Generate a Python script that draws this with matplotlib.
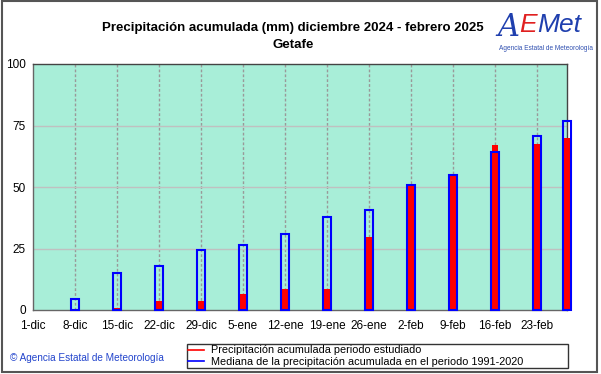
import numpy as np
import pandas as pd
import matplotlib
matplotlib.use("Agg")
import matplotlib.pyplot as plt
from matplotlib.lines import Line2D
from matplotlib.patches import Rectangle

plt.rcParams["font.family"] = ["Liberation Sans", "DejaVu Sans"]

# ── data ────────────────────────────────────────────────────────────────────
start      = pd.Timestamp("2024-12-01")
end        = pd.Timestamp("2025-02-28")
bar_dates  = ["2024-12-08", "2024-12-15", "2024-12-22", "2024-12-29",
              "2025-01-05", "2025-01-12", "2025-01-19", "2025-01-26",
              "2025-02-02", "2025-02-09", "2025-02-16", "2025-02-23",
              "2025-02-28"]
observed   = [0.3, 0.7, 3.7, 3.7, 6.5, 8.4, 8.5, 29.8, 50.5, 55.0, 67.0, 67.4, 70.0]
median     = [4.5, 14.9, 18.0, 24.3, 26.4, 30.8, 37.9, 40.6, 50.7, 55.0, 64.1, 70.9, 77.0]
tick_labels = ["1-dic", "8-dic", "15-dic", "22-dic", "29-dic", "5-ene", "12-ene",
               "19-ene", "26-ene", "2-feb", "9-feb", "16-feb", "23-feb"]
y_ticks    = [0, 25, 50, 75, 100]

x_bars  = np.array([(pd.Timestamp(d) - start).days for d in bar_dates])
x_ticks = np.arange(len(tick_labels)) * 7
x_max   = (end - start).days

# ── figure ──────────────────────────────────────────────────────────────────
fig = plt.figure(figsize=(6.01, 3.74), dpi=100)
ax = fig.add_axes([33 / 601, 1 - 310 / 374, 534 / 601, 246 / 374])
ax.set_facecolor("#a8eed8")

ax.set_xlim(0, x_max)
ax.set_ylim(0, 100)

# grid
for xt in x_ticks[1:]:
    ax.axvline(xt, color="#999999", linestyle=(0, (2, 1.5)), linewidth=1.0, zorder=1)
for yt in y_ticks[1:-1]:
    ax.axhline(yt, color="#c0c0c0", linewidth=1.0, zorder=1)

# bars: observed (red) under median outline (blue)
ax.bar(x_bars, observed, width=1.0, color="#ff0000", linewidth=0,
       zorder=3, clip_on=False)
ax.bar(x_bars, median, width=1.2, facecolor="none", edgecolor="#0000ff",
       linewidth=1.5, zorder=4, clip_on=False)

ax.set_xticks(x_ticks)
ax.set_xticklabels(tick_labels, fontsize=8.5)
ax.set_yticks(y_ticks)
ax.set_yticklabels([str(v) for v in y_ticks], fontsize=8.5)
ax.tick_params(length=0, pad=7)
ax.tick_params(axis="y", pad=5)

for side in ["left", "bottom"]:
    ax.spines[side].set_color("#666666")
for side in ["top", "right"]:
    ax.spines[side].set_color("#444444")
for s in ax.spines.values():
    s.set_linewidth(1.0)

# titles
fig.text(293 / 601, 1 - 28 / 374,
         "Precipitación acumulada (mm) diciembre 2024 - febrero 2025",
         ha="center", va="center", fontsize=9.5, fontweight="bold")
fig.text(293 / 601, 1 - 45 / 374, "Getafe",
         ha="center", va="center", fontsize=9.5, fontweight="bold")

# logo
fig.text(497 / 601, 1 - 27 / 374, "A", color="#1f3fae", fontsize=22,
         style="italic", ha="left", va="center", family="DejaVu Serif")
fig.text(519 / 601, 1 - 25 / 374, "E", color="#e02020", fontsize=19,
         style="italic", ha="left", va="center")
fig.text(537 / 601, 1 - 25 / 374, "Met", color="#1f3fae", fontsize=19,
         style="italic", ha="left", va="center")
fig.text(546 / 601, 1 - 48 / 374, "Agencia Estatal de Meteorología",
         color="#3050b0", fontsize=4.7, ha="center", va="center")

# copyright
fig.text(10 / 601, 1 - 358 / 374, "© Agencia Estatal de Meteorología",
         color="#2244cc", fontsize=7.2, ha="left", va="center")

# legend
handles = [Line2D([], [], color="#ff0000", linewidth=1.2),
           Line2D([], [], color="#0000ff", linewidth=1.2)]
labels = ["Precipitación acumulada periodo estudiado",
          "Mediana de la precipitación acumulada en el periodo 1991-2020"]
leg = fig.legend(handles, labels, loc="lower left",
                 bbox_to_anchor=(187 / 601, 1 - 368 / 374, 381 / 601, 31 / 374),
                 mode="expand", fontsize=7.8, frameon=True, fancybox=False,
                 handlelength=1.5, handletextpad=0.6, borderpad=0.1,
                 labelspacing=0.15, borderaxespad=0)
leg.get_frame().set_edgecolor("#000000")
leg.get_frame().set_linewidth(1.0)

# outer frame
fig.patches.append(Rectangle((0.003, 0.006), 0.99, 0.99, transform=fig.transFigure,
                             fill=False, edgecolor="#555555", linewidth=1.5))

fig.savefig("out.png", dpi=100)
